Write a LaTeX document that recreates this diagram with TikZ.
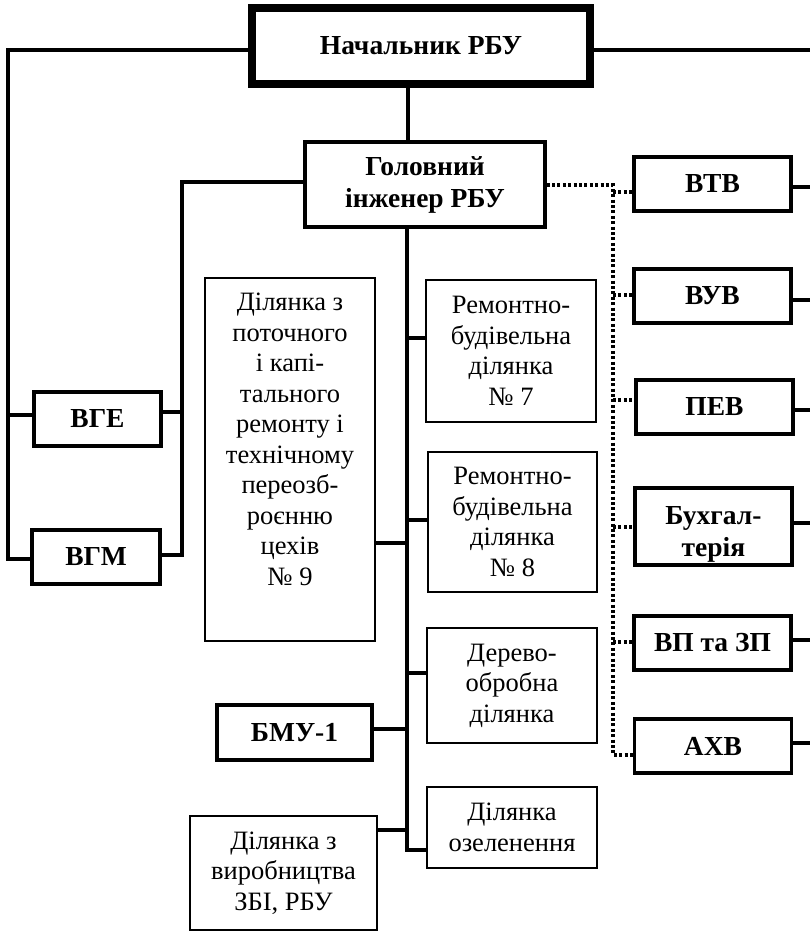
\documentclass[tikz,border=0pt]{standalone}
\usepackage{fontspec}
\setmainfont{Liberation Serif}
\begin{document}
\begin{tikzpicture}[x=1pt,y=-1pt,
 bbox/.style={draw, line width=3.3pt, inner sep=0pt, align=center, font=\bfseries\fontsize{27.5}{32}\selectfont},
 tbox/.style={draw, line width=2pt, inner sep=0pt, align=center, font=\fontsize{26.5}{30.5}\selectfont},
 conn/.style={line width=3.3pt},
 dotc/.style={line width=3.2pt, dash pattern=on 3pt off 2.4pt}]
\useasboundingbox (0,0) rectangle (810,932);
% boxes
\node[bbox, line width=8pt, minimum width=338pt, minimum height=76pt] (nach) at (421,46) {Начальник РБУ};
\node[bbox, minimum width=240pt, minimum height=85pt] (gol) at (425,184.5) {Головний\\інженер РБУ};
\node[bbox, minimum width=157pt, minimum height=54pt] (vtv) at (712.5,184) {ВТВ};
\node[bbox, minimum width=157pt, minimum height=54pt] (vuv) at (712.5,296) {ВУВ};
\node[bbox, minimum width=157pt, minimum height=54pt] (pev) at (714.5,407) {ПЕВ};
\node[bbox, minimum width=157pt, minimum height=77pt] (buh) at (713.5,526.5) {\rule{0pt}{34pt}Бухгал-\\терія};
\node[bbox, minimum width=157pt, minimum height=54pt] (vp) at (712.5,643) {ВП та ЗП};
\node[bbox, minimum width=157pt, minimum height=54pt] (ahv) at (713,746) {АХВ};
\node[bbox, minimum width=127pt, minimum height=54pt] (vge) at (97.5,419) {ВГЕ};
\node[bbox, minimum width=128pt, minimum height=54pt] (vgm) at (96,557) {ВГМ};
\node[bbox, minimum width=155pt, minimum height=55pt] (bmu) at (294.5,732.5) {БМУ-1};
\node[tbox, minimum width=170pt, minimum height=363pt] (d9) at (290,459.5) {Ділянка з\\поточного\\і капі-\\тального\\ремонту і\\технічному\\переозб-\\роєнню\\цехів\\№ 9\rule[-41pt]{0pt}{41pt}};
\node[tbox, minimum width=170pt, minimum height=142pt] (r7) at (511,351) {Ремонтно-\\будівельна\\ділянка\\№ 7};
\node[tbox, minimum width=169pt, minimum height=140pt] (r8) at (512.5,522) {Ремонтно-\\будівельна\\ділянка\\№ 8};
\node[tbox, minimum width=170pt, minimum height=115pt] (der) at (512,685.5) {Дерево-\\обробна\\ділянка};
\node[tbox, minimum width=170pt, minimum height=81pt] (oz) at (512,827.5) {Ділянка\\озеленення};
\node[tbox, minimum width=187pt, minimum height=114pt] (zbi) at (283.5,873) {Ділянка з\\виробництва\\ЗБІ, РБУ};
% coordinates
\coordinate (lc) at (8,50);
\coordinate (lb) at (8,559);
\coordinate (lv) at (8,415);
\coordinate (rc) at (810,50);
\coordinate (v1) at (408,88);
\coordinate (gl) at (182,182);
\coordinate (gb) at (182,555);
\coordinate (ge) at (182,412);
\coordinate (tb) at (407,850);
\coordinate (t7) at (407,338);
\coordinate (t8) at (407,520);
\coordinate (td) at (407,673);
\coordinate (t9) at (407,543);
\coordinate (tm) at (407,729);
\coordinate (tz) at (407,830);
\coordinate (r1) at (810,187);
\coordinate (r2) at (810,300);
\coordinate (r3) at (810,410);
\coordinate (r4) at (810,523);
\coordinate (r5) at (810,640);
\coordinate (r6) at (810,743);
\coordinate (dt) at (613,185);
\coordinate (db) at (613,755);
\coordinate (s1) at (613,192);
\coordinate (s2) at (613,295);
\coordinate (s3) at (613,400);
\coordinate (s4) at (613,527);
\coordinate (s5) at (613,642);
% solid connectors
\draw[conn] (lc -| nach.west) -- (lc) -- (lb) -- (lb -| vgm.west);
\draw[conn] (lv) -- (lv -| vge.west);
\draw[conn] (rc -| nach.east) -- (rc);
\draw[conn] (v1) -- (v1 |- gol.north);
\draw[conn] (gl -| gol.west) -- (gl) -- (gb) -- (gb -| vgm.east);
\draw[conn] (ge -| vge.east) -- (ge);
\draw[conn] (tb |- gol.south) -- (tb) -- (tb -| oz.west);
\draw[conn] (t7) -- (t7 -| r7.west);
\draw[conn] (t8) -- (t8 -| r8.west);
\draw[conn] (td) -- (td -| der.west);
\draw[conn] (t9) -- (t9 -| d9.east);
\draw[conn] (tm) -- (tm -| bmu.east);
\draw[conn] (tz) -- (tz -| zbi.east);
\draw[conn] (r1 -| vtv.east) -- (r1);
\draw[conn] (r2 -| vuv.east) -- (r2);
\draw[conn] (r3 -| pev.east) -- (r3);
\draw[conn] (r4 -| buh.east) -- (r4);
\draw[conn] (r5 -| vp.east) -- (r5);
\draw[conn] (r6 -| ahv.east) -- (r6);
% dotted connectors
\draw[dotc] (dt -| gol.east) -- (dt) -- (db) -- (db -| ahv.west);
\draw[dotc] (s1) -- (s1 -| vtv.west);
\draw[dotc] (s2) -- (s2 -| vuv.west);
\draw[dotc] (s3) -- (s3 -| pev.west);
\draw[dotc] (s4) -- (s4 -| buh.west);
\draw[dotc] (s5) -- (s5 -| vp.west);
\end{tikzpicture}
\end{document}
